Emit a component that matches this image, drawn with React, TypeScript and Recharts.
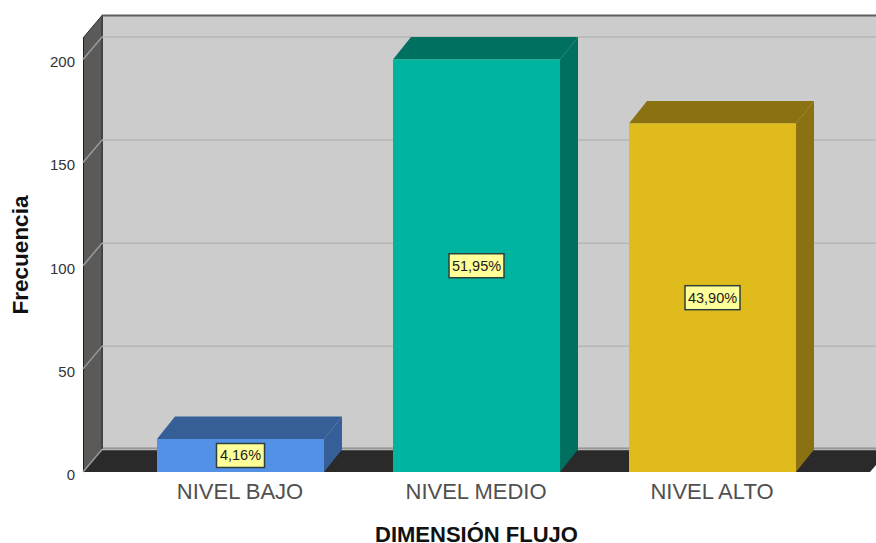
import { BarChart, Bar, XAxis, YAxis, Label, LabelList, ReferenceArea } from "recharts";

const categories = ["NIVEL BAJO", "NIVEL MEDIO", "NIVEL ALTO"];
const counts = [16, 200, 169];
const percents = ["4,16%", "51,95%", "43,90%"];
const yTicks = [0, 50, 100, 150, 200];
const frontColors = ["#5291e6", "#00b5a0", "#e0bb1c"];
const sideColors = ["#355f96", "#007060", "#8a7212"];

const yMax = 210.4;
// desplazamiento del plano trasero respecto al frontal
const DX = 19;
const DY = 22.5;
const BAR_DX = 18;
// relleno lateral del eje de categorías
const PAD_L = 39;
const PAD_R = 40;

const data = categories.map((name, i) => ({ name, count: counts[i], label: percents[i] }));

const pts = (list: number[][]) => list.map((p) => p.join(",")).join(" ");

// Paredes y suelo de la caja 3D
function Walls({ x: rawX, y, width, height }: any) {
  const x = rawX - PAD_L;
  const right = rawX + width + PAD_R;
  const bottom = y + height;
  return (
    <g>
      <polygon points={pts([[x + DX, y - DY], [right + DX, y - DY], [right + DX, bottom - DY], [x + DX, bottom - DY]])} fill="#cccccc" />
      <line x1={x + DX} y1={y - DY} x2={right + DX} y2={y - DY} stroke="#5f5f5f" strokeWidth={2} />
      <line x1={x + DX} y1={bottom - DY - 1} x2={right + DX} y2={bottom - DY - 1} stroke="#8c8c8c" strokeWidth={2} />
      <polygon points={pts([[x, y], [x + DX, y - DY], [x + DX, bottom - DY], [x, bottom]])} fill="#5c5a58" />
      <line x1={x + 0.5} y1={y} x2={x + 0.5} y2={bottom} stroke="#1e1e1e" strokeWidth={1} />
      <line x1={x} y1={y} x2={x + DX} y2={y - DY} stroke="#2e2e2e" strokeWidth={1} />
      <line x1={x + DX} y1={y - DY} x2={x + DX} y2={bottom - DY} stroke="#444444" strokeWidth={2} />
      <polygon points={pts([[x, bottom], [x + DX, bottom - DY], [right + DX, bottom - DY], [right, bottom]])} fill="#2a2a2a" />
    </g>
  );
}

// Cuadrícula: el borde inferior del área cae sobre el valor del tick,
// diagonal en la pared lateral y horizontal en el fondo
function GridLine({ x, y, width, height }: any) {
  const left = x - PAD_L;
  const right = x + width + PAD_R;
  const level = y + height;
  return (
    <g fill="none" strokeWidth={1.5}>
      <line x1={left} y1={level} x2={left + DX} y2={level - DY} stroke="#9a9a9a" />
      <line x1={left + DX} y1={level - DY} x2={right + DX} y2={level - DY} stroke="#b6b6b6" />
    </g>
  );
}

// Barra con cara superior y lateral
function Bar3D({ x, y, width, height, index }: any) {
  const r = x + width;
  const b = y + height;
  return (
    <g>
      <polygon points={pts([[x, y], [x + BAR_DX, y - DY], [r + BAR_DX, y - DY], [r, y]])} fill={sideColors[index]} />
      <polygon points={pts([[r, y], [r + BAR_DX, y - DY], [r + BAR_DX, b - DY], [r, b]])} fill={sideColors[index]} />
      <rect x={x} y={y} width={width} height={height} fill={frontColors[index]} />
    </g>
  );
}

function PercentBox({ x, y, width, height, value }: any) {
  const cx = x + width / 2;
  const cy = y + height / 2;
  const w = String(value).length > 5 ? 55 : 48;
  return (
    <g>
      <rect x={cx - w / 2} y={cy - 12} width={w} height={24} fill="#ffff99" stroke="#2f3f3a" strokeWidth={1.5} />
      <text x={cx} y={cy + 5} textAnchor="middle" fontSize={14.5} fontFamily="Liberation Sans" fill="#1a1a1a">
        {value}
      </text>
    </g>
  );
}

export default function App() {
  return (
    <div style={{ position: "absolute", left: 0, top: 0 }}>
      <BarChart width={876} height={543} data={data} margin={{ top: 38, right: 6, bottom: 0, left: 0 }} barSize={167}>
        <ReferenceArea y1={0} y2={yMax} shape={<Walls />} fillOpacity={1} />
        {yTicks.map((t) => (
          <ReferenceArea key={t} y1={t} y2={yMax} shape={<GridLine />} />
        ))}
        <XAxis
          dataKey="name"
          height={71}
          padding={{ left: PAD_L, right: PAD_R }}
          axisLine={false}
          tickLine={false}
          tickMargin={5}
          tick={{ fontSize: 22, fontFamily: "Liberation Sans", fill: "#505050" }}
        >
          <Label value="DIMENSIÓN FLUJO" position="insideBottom" offset={0} dy={-1} style={{ fontSize: 22, fontWeight: 700, fontFamily: "Liberation Sans", fill: "#111111" }} />
        </XAxis>
        <YAxis
          width={83}
          domain={[0, yMax]}
          ticks={yTicks}
          interval={0}
          axisLine={false}
          tickLine={false}
          tickSize={0}
          tickMargin={8}
          dy={2.5}
          tick={{ fontSize: 15, fontFamily: "Liberation Sans", fill: "#333333" }}
        >
          <Label value="Frecuencia" angle={-90} position="insideLeft" offset={0} dx={20} style={{ textAnchor: "middle", fontSize: 22.5, fontWeight: 700, fontFamily: "Liberation Sans", fill: "#111111" }} />
        </YAxis>
        <Bar dataKey="count" shape={<Bar3D />} isAnimationActive={false}>
          <LabelList dataKey="label" content={<PercentBox />} />
        </Bar>
      </BarChart>
    </div>
  );
}
